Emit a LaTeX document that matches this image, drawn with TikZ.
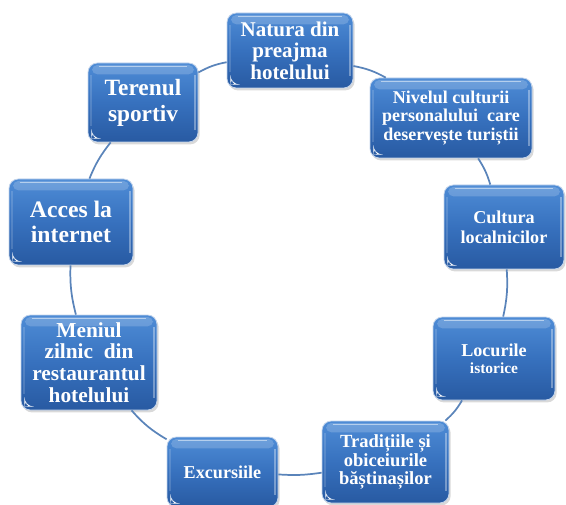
\documentclass[tikz,border=0pt]{standalone}
\usepackage{fontspec}
\setmainfont{Liberation Serif}
\usetikzlibrary{shadows,calc}
\definecolor{boxtop}{RGB}{78,140,214}
\definecolor{boxmid}{RGB}{55,113,190}
\definecolor{boxbot}{RGB}{40,90,162}
\definecolor{linkc}{RGB}{90,132,186}
\tikzset{
  box/.style 2 args={draw=white!70!boxmid, line width=0.6pt, rounded corners=7pt,
    minimum width=#1*0.75pt, minimum height=#2*0.75pt, inner sep=1pt,
    align=center, text=white,
    top color=boxtop, bottom color=boxbot, middle color=boxmid,
    drop shadow={opacity=0.3, shadow xshift=1.2pt, shadow yshift=-1.8pt},
    path picture={
      \fill[white, opacity=0.18, rounded corners=4pt]
        ($(path picture bounding box.north west)+(3pt,-1.5pt)$) rectangle
        ($(path picture bounding box.north east)+(-3pt,-8.5pt)$);
      \draw[white, opacity=0.5, line width=0.9pt]
        ($(path picture bounding box.north west)+(8pt,-2.8pt)$) --
        ($(path picture bounding box.north east)+(-8pt,-2.8pt)$);
      \draw[white, opacity=0.35, line width=1.2pt]
        ($(path picture bounding box.north east)+(-2.2pt,-9pt)$) --
        ($(path picture bounding box.south east)+(-2.2pt,9pt)$);
      \draw[white, opacity=0.15, line width=1.2pt]
        ($(path picture bounding box.north west)+(2.2pt,-9pt)$) --
        ($(path picture bounding box.south west)+(2.2pt,12pt)$);
      \fill[white]
        ($(path picture bounding box.south west)+(2.6pt,2.6pt)$) --
        ($(path picture bounding box.south west)+(9.5pt,2.6pt)$) .. controls
        ($(path picture bounding box.south west)+(5pt,4.5pt)$) ..
        ($(path picture bounding box.south west)+(2.6pt,9.5pt)$) -- cycle;
    }},
  link/.style={draw=linkc, line width=1.3pt},
}
\begin{document}
\begin{tikzpicture}[x=0.75pt,y=-0.75pt]
\useasboundingbox (0,0) rectangle (566,505);

\node[box={126}{75}, font=\fontsize{15.75}{16.2}\selectfont\bfseries] (nat) at (290,50.5)
  {Natura din\\preajma\\hotelului};
\node[box={162}{80}, font=\fontsize{13.5}{13.8}\selectfont\bfseries] (niv) at (451,118)
  {Nivelul culturii\\personalului~ care\\deservește turiștii};
\node[box={120}{84}, font=\fontsize{13.6}{15}\selectfont\bfseries] (cul) at (504,227)
  {Cultura\\localnicilor};
\node[box={122}{83}, font=\fontsize{13.6}{13}\selectfont\bfseries] (loc) at (494,358.5)
  {Locurile\\{\fontsize{11.6}{12}\selectfont istorice}};
\node[box={127}{82}, font=\fontsize{13.9}{13.7}\selectfont\bfseries] (tra) at (385.5,462)
  {Tradițiile și\\obiceiurile\\băștinașilor};
\node[box={111}{70}, font=\fontsize{13.6}{14}\selectfont\bfseries] (exc) at (222.5,472)
  {Excursiile};
\node[box={136}{95}, font=\fontsize{16}{16.2}\selectfont\bfseries] (men) at (89,362.5)
  {Meniul\\zilnic~ din\\restaurantul\\hotelului};
\node[box={124}{86}, font=\fontsize{17.75}{19}\selectfont\bfseries] (acc) at (71,222)
  {Acces la\\internet};
\node[box={110}{79}, font=\fontsize{17.5}{19.5}\selectfont\bfseries] (ter) at (143,102.5)
  {Terenul\\sportiv};

\draw[link] (nat) to[bend left=9] (niv);
\draw[link] (niv) to[bend left=8] (cul);
\draw[link] (cul) to[bend left=8] (loc);
\draw[link] (loc) to[bend left=9] (tra);
\draw[link] (tra) to[bend left=6] (exc);
\draw[link] (exc) to[bend left=9] (men);
\draw[link] (men) to[bend left=8] (acc);
\draw[link] (acc) to[bend left=8] (ter);
\draw[link] (ter) to[bend left=9] (nat);
\end{tikzpicture}
\end{document}
